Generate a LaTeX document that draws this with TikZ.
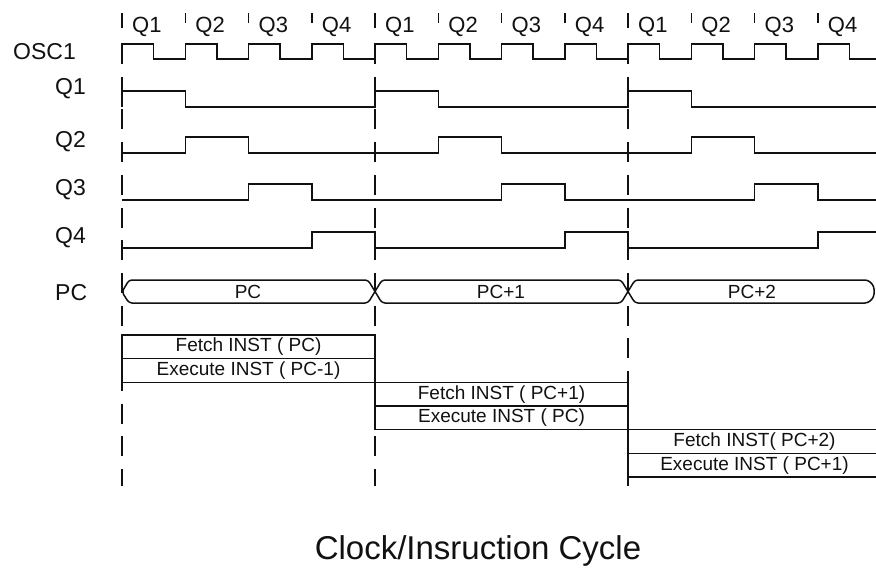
\documentclass[tikz,border=0pt]{standalone}
\usepackage{fontspec}
\setmainfont{Liberation Sans}
\usetikzlibrary{positioning}
\definecolor{ink}{HTML}{111111}

\begin{document}
\begin{tikzpicture}[x=1pt,y=-1pt,
  sig/.style={draw=ink,line width=1.5pt},
  guide/.style={draw=ink,line width=1.5pt,dash pattern=on 20pt off 12.7pt},
  lbl/.style={anchor=west,inner sep=0pt,text=ink,font=\fontsize{23}{27}\selectfont},
  ql/.style={anchor=west,inner sep=0pt,text=ink,font=\fontsize{22}{26}\selectfont},
  tx/.style={inner sep=0pt,text=ink,font=\fontsize{19}{22}\selectfont},
  cell/.style={draw=ink,line width=1.6pt,outer sep=0pt,inner sep=0pt,
    minimum width=253pt,minimum height=23.67pt,text=ink,font=\fontsize{19}{22}\selectfont}]
\useasboundingbox (0,0) rectangle (876,573);
\clip (0,0) rectangle (876,573);
% cycle guides
\foreach \x in {122,375,628} {\draw[guide] (\x,44) -- (\x,486);}
% quarter marks
\foreach \c in {0,1,2} {
  \foreach \k in {1,...,4} {
    \pgfmathsetmacro\xq{122+253*\c+63.25*(\k-1)}
    \ifnum\k=1 \draw[sig] (\xq,13) -- (\xq,28); \else \draw[sig] (\xq,13) -- (\xq,23); \fi
    \node[ql] (q\c\k) at (\xq+10,26.5) {Q\k};
  }
}
% signal names
\node[lbl] (osc) at (13,52) {OSC1};
\foreach \k/\y in {1/89,2/142,3/190,4/238} {\node[lbl] (l\k) at (55,\y) {Q\k};}
\node[lbl] (lpc) at (55,293) {PC};
% clock and phases
\draw[sig] (122,59) foreach \i in {0,...,11} {-- ++(0,-15) -- ++(31.6,0) -- ++(0,15) -- ++(31.65,0)};
\foreach \k/\lo in {1/107,2/153,3/200,4/248} {
  \draw[sig] (122,\lo) foreach \c in {0,1,2} {-- ({122+253*\c+63.25*(\k-1)},\lo) -- ++(0,-16) -- ++(63.25,0) -- ++(0,16)} -- (876,\lo);
}
% program counter bus
\draw[sig,rounded corners=3pt] (122,292) -- (129,280) -- (368,280) -- (382,303) -- (621,303) -- (635,280)
  -- (868,280) -- (874,286) -- (874,297) -- (868,303) -- (635,303) -- (621,280) -- (382,280) -- (368,303)
  -- (129,303) -- cycle;
\node[tx] (pc0) at (248,292) {PC};
\node[tx] (pc1) at (501,292) {PC+1};
\node[tx] (pc2) at (752,292) {PC+2};
% fetch / execute
\node[cell] (f1) at (248.5,346.8) {Fetch INST ( PC)};
\node[cell,below=0pt of f1] (e1) {Execute INST ( PC-1)};
\node[cell,below right=0pt and 0pt of e1] (f2) {Fetch INST ( PC+1)};
\node[cell,below=0pt of f2] (e2) {Execute INST ( PC)};
\node[cell,below right=0pt and 0pt of e2] (f3) {Fetch INST( PC+2)};
\node[cell,below=0pt of f3] (e3) {Execute INST ( PC+1)};
\node[text=ink,font=\fontsize{33}{38}\selectfont] (title) at (478,551) {Clock/Insruction Cycle};
\end{tikzpicture}
\end{document}
